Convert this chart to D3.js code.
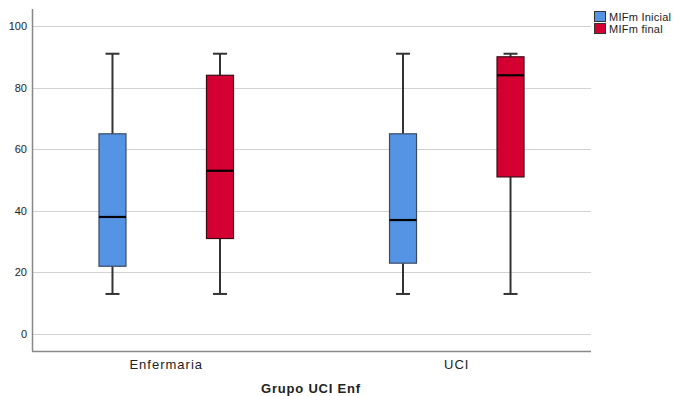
<!DOCTYPE html>
<html>
<head>
<meta charset="utf-8">
<script src="https://cdn.jsdelivr.net/npm/d3@7"></script>
<style>
  body { margin: 0; background: #fff; }
  text { font-family: Arial, "Liberation Sans", sans-serif; }
</style>
</head>
<body>
<div id="chart"></div>
<script>
// data
const groups = ["Enfermaria", "UCI"];
const series = ["MIFm Inicial", "MIFm final"];
const colors = ["#5594E5", "#D50032"];
const strokes = ["#3A4A63", "#3A0A14"];
// [min, q1, median, q3, max] per group, per series
const inicialStats = [[13, 22, 38, 65, 91], [13, 23, 37, 65, 91]];
const finalStats = [[13, 31, 53, 84, 91], [13, 51, 84, 90, 91]];
const yTicks = [0, 20, 40, 60, 80, 100];

const W = 674, H = 396;
const plotLeft = 32, plotRight = 591, plotTop = 9, plotBottom = 351;

const svg = d3.select("#chart").append("svg")
    .attr("width", W)
    .attr("height", H);

const yScale = d3.scaleLinear()
    .domain([0, 100])
    .range([334, 26]);

const xScale = d3.scalePoint()
    .domain(groups)
    .range([plotLeft, plotRight])
    .padding(0.462);

const inner = d3.scaleBand()
    .domain(series)
    .range([-107.5, 107.5]);

const boxW = 27, capW = 14;

// grid
svg.append("g")
    .selectAll("line")
    .data(yTicks)
    .enter()
    .append("line")
    .attr("x1", plotLeft)
    .attr("x2", plotRight)
    .attr("y1", d => Math.round(yScale(d)) + 0.5)
    .attr("y2", d => Math.round(yScale(d)) + 0.5)
    .attr("stroke", "#d2d2d2")
    .attr("stroke-width", 1);

// y tick labels
svg.append("g")
    .selectAll("text")
    .data(yTicks)
    .enter()
    .append("text")
    .attr("x", 27)
    .attr("y", d => yScale(d) + 4)
    .attr("text-anchor", "end")
    .style("font-size", "11px")
    .attr("fill", "#222")
    .text(d => d);

// axis lines
svg.append("line")
    .attr("x1", plotLeft + 0.5).attr("x2", plotLeft + 0.5)
    .attr("y1", plotTop).attr("y2", plotBottom)
    .attr("stroke", "#888").attr("stroke-width", 1.5);
svg.append("line")
    .attr("x1", plotLeft).attr("x2", plotRight)
    .attr("y1", plotBottom + 0.5).attr("y2", plotBottom + 0.5)
    .attr("stroke", "#888").attr("stroke-width", 1.5);

// boxes
const allStats = [inicialStats, finalStats];
series.forEach((s, si) => {
    const g = svg.append("g");
    const items = groups.map((grp, gi) => ({ grp: grp, st: allStats[si][gi] }));
    const cx = d => xScale(d.grp) + inner(s) + inner.bandwidth() / 2;

    const box = g.selectAll("g.box")
        .data(items)
        .enter()
        .append("g")
        .attr("class", "box");

    // whisker stems
    box.append("line")
        .attr("x1", cx).attr("x2", cx)
        .attr("y1", d => yScale(d.st[4])).attr("y2", d => yScale(d.st[3]))
        .attr("stroke", "#333").attr("stroke-width", 2);
    box.append("line")
        .attr("x1", cx).attr("x2", cx)
        .attr("y1", d => yScale(d.st[1])).attr("y2", d => yScale(d.st[0]))
        .attr("stroke", "#333").attr("stroke-width", 2);

    // caps
    [0, 4].forEach(k => {
        box.append("line")
            .attr("x1", d => cx(d) - capW / 2).attr("x2", d => cx(d) + capW / 2)
            .attr("y1", d => yScale(d.st[k])).attr("y2", d => yScale(d.st[k]))
            .attr("stroke", "#333").attr("stroke-width", 2);
    });

    box.append("rect")
        .attr("x", d => cx(d) - boxW / 2)
        .attr("y", d => yScale(d.st[3]))
        .attr("width", boxW)
        .attr("height", d => yScale(d.st[1]) - yScale(d.st[3]))
        .attr("fill", colors[si])
        .attr("stroke", strokes[si])
        .attr("stroke-width", 1.2);

    box.append("line")
        .attr("x1", d => cx(d) - boxW / 2).attr("x2", d => cx(d) + boxW / 2)
        .attr("y1", d => yScale(d.st[2])).attr("y2", d => yScale(d.st[2]))
        .attr("stroke", "#000").attr("stroke-width", 2.2);
});

// category labels
svg.append("g")
    .selectAll("text")
    .data(groups)
    .enter()
    .append("text")
    .attr("x", d => xScale(d))
    .attr("y", 369)
    .attr("text-anchor", "middle")
    .style("font-size", "13px")
    .style("letter-spacing", "1px")
    .attr("fill", "#222")
    .text(d => d);

svg.append("text")
    .text("Grupo UCI Enf")
    .attr("x", 311)
    .attr("y", 393)
    .attr("text-anchor", "middle")
    .style("font-size", "13px")
    .style("font-weight", "bold")
    .style("letter-spacing", "0.8px")
    .attr("fill", "#222");

// legend
const legend = svg.append("g");
series.forEach((s, i) => {
    legend.append("rect")
        .attr("x", 594.5)
        .attr("y", 11.5 + i * 12)
        .attr("width", 11)
        .attr("height", 10)
        .attr("fill", colors[i])
        .attr("stroke", "#333")
        .attr("stroke-width", 1);
    legend.append("text")
        .attr("x", 609)
        .attr("y", 21 + i * 12)
        .style("font-size", "11px")
        .style("letter-spacing", "0.25px")
        .attr("fill", "#222")
        .text(s);
});
</script>
</body>
</html>
